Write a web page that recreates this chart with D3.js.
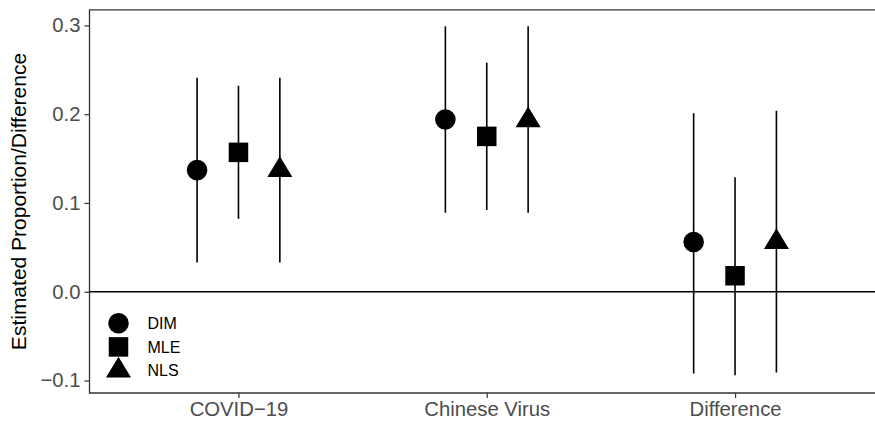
<!DOCTYPE html>
<html>
<head>
<meta charset="utf-8">
<script src="https://cdn.jsdelivr.net/npm/d3@7"></script>
<style>
  html, body { margin: 0; padding: 0; background: #fff; overflow: hidden; }
  svg { display: block; font-family: "Liberation Sans", Arial, Helvetica, sans-serif; }
</style>
</head>
<body>
<svg id="chart" width="875" height="424"></svg>
<script>
const categories = ["COVID\u221219", "Chinese Virus", "Difference"];
const methods = ["DIM", "MLE", "NLS"];
const estimates = {
  DIM: [0.137, 0.194, 0.056],
  MLE: [0.157, 0.175, 0.018],
  NLS: [0.137, 0.193, 0.056]
};
const lowerCI = {
  DIM: [0.033, 0.089, -0.092],
  MLE: [0.082, 0.092, -0.094],
  NLS: [0.033, 0.089, -0.091]
};
const upperCI = {
  DIM: [0.241, 0.299, 0.201],
  MLE: [0.232, 0.258, 0.129],
  NLS: [0.241, 0.299, 0.204]
};
const yTicks = [-0.1, 0.0, 0.1, 0.2, 0.3];
const yDomain = [-0.1141, 0.3176];
const yTitle = "Estimated Proportion/Difference";

const rows = [];
methods.forEach(m => categories.forEach((c, i) => {
  rows.push({ method: m, cat: c, est: estimates[m][i], lo: lowerCI[m][i], hi: upperCI[m][i] });
}));

const svg = d3.select("#chart");
const P = { left: 89.5, right: 884, top: 9.8, bottom: 393 };

const x = d3.scalePoint().domain(categories).range([P.left, P.right]).padding(0.6);
const dodge = d3.scaleBand().domain(methods).range([-x.step() * 0.25, x.step() * 0.25]);
const y = d3.scaleLinear().domain(yDomain).range([P.bottom, P.top]);
const px = d => x(d.cat) + dodge(d.method) + dodge.bandwidth() / 2;

// panel border (right edge falls outside the picture)
svg.append("path")
  .attr("d", `M${P.right + 20},${P.top}H${P.left}V${P.bottom}H${P.right + 20}`)
  .attr("fill", "none").attr("stroke", "#333333").attr("stroke-width", 1.3);

// axes
const tickFont = "20.3px";
const yAxis = d3.axisLeft(y).tickValues(yTicks).tickFormat(d3.format(".1f")).tickSize(5).tickPadding(4);
const gy = svg.append("g").attr("transform", `translate(${P.left},0)`).call(yAxis);
gy.select(".domain").remove();
gy.selectAll(".tick line").attr("stroke", "#333333").attr("stroke-width", 1.2);
gy.selectAll(".tick text").attr("fill", "#4D4D4D").attr("font-size", tickFont)
  .attr("font-family", "Liberation Sans, Arial, sans-serif");

const xAxis = d3.axisBottom(x).tickSize(5).tickPadding(4);
const gx = svg.append("g").attr("transform", `translate(0,${P.bottom})`).call(xAxis);
gx.select(".domain").remove();
gx.selectAll(".tick line").attr("stroke", "#333333").attr("stroke-width", 1.2);
gx.selectAll(".tick text").attr("fill", "#4D4D4D").attr("font-size", tickFont)
  .attr("font-family", "Liberation Sans, Arial, sans-serif");

// y title
svg.append("text")
  .attr("transform", `translate(26,${(55 + 348) / 2}) rotate(-90)`)
  .attr("text-anchor", "middle")
  .attr("font-size", "21px").attr("fill", "#000")
  .text(yTitle);

// zero line
svg.append("line")
  .attr("x1", P.left).attr("x2", P.right)
  .attr("y1", y(0)).attr("y2", y(0))
  .attr("stroke", "#000").attr("stroke-width", 1.6);

// error bars
svg.append("g").selectAll("line").data(rows).join("line")
  .attr("x1", px).attr("x2", px)
  .attr("y1", d => y(d.lo)).attr("y2", d => y(d.hi))
  .attr("stroke", "#000").attr("stroke-width", 1.6);

// shapes
function shapePath(method, cx, cy) {
  if (method === "DIM") {
    const r = 10.3;
    return `M${cx - r},${cy}a${r},${r} 0 1,0 ${2 * r},0a${r},${r} 0 1,0 ${-2 * r},0Z`;
  } else if (method === "MLE") {
    const s = 19.5 / 2;
    return `M${cx - s},${cy - s}H${cx + s}V${cy + s}H${cx - s}Z`;
  } else {
    const w = 25, h = 20.8;
    const top = cy - h * 2 / 3, bot = cy + h / 3;
    return `M${cx},${top}L${cx + w / 2},${bot}L${cx - w / 2},${bot}Z`;
  }
}
svg.append("g").selectAll("path").data(rows).join("path")
  .attr("d", d => shapePath(d.method, px(d), y(d.est)))
  .attr("fill", "#000");

// legend
const legY = d3.scalePoint().domain(methods).range([323.3, 370.5]);
const leg = svg.append("g");
methods.forEach(m => {
  leg.append("path").attr("d", shapePath(m, 118.5, legY(m))).attr("fill", "#000");
  leg.append("text").attr("x", 147.5).attr("y", legY(m)).attr("dy", "0.36em")
    .attr("font-size", "16px").attr("fill", "#000").text(m);
});
</script>
</body>
</html>
